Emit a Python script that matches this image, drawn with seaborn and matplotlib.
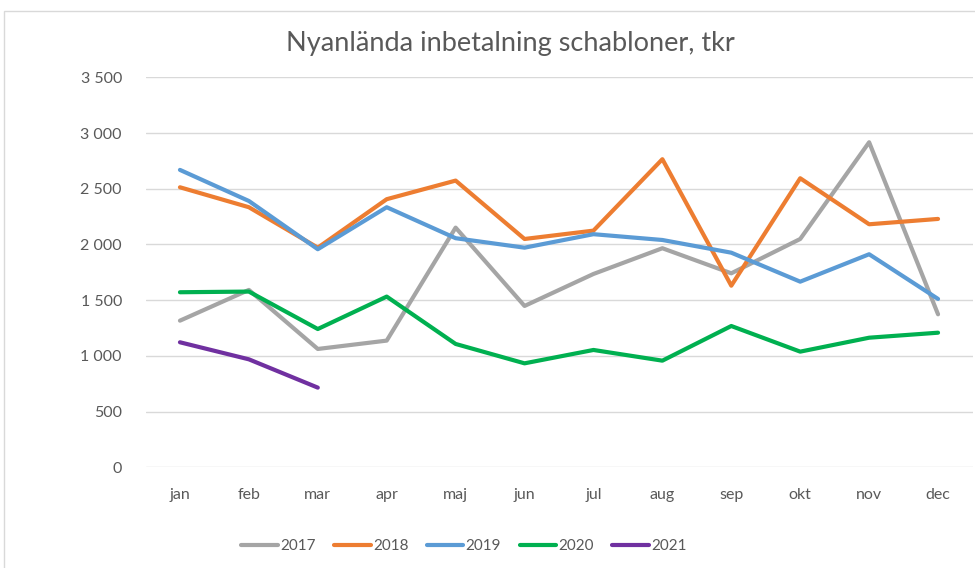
import numpy as np
import pandas as pd
import matplotlib
matplotlib.use("Agg")
import matplotlib.pyplot as plt
import seaborn as sns
from matplotlib.ticker import FuncFormatter
from matplotlib.patches import Rectangle

months = ["jan", "feb", "mar", "apr", "maj", "jun", "jul", "aug", "sep", "okt", "nov", "dec"]
years = ["2017", "2018", "2019", "2020", "2021"]
v2017 = [1316, 1592, 1062, 1137, 2151, 1448, 1735, 1966, 1741, 2049, 2917, 1373]
v2018 = [2513, 2334, 1971, 2406, 2573, 2049, 2124, 2765, 1630, 2594, 2181, 2229]
v2019 = [2669, 2390, 1957, 2334, 2056, 1971, 2092, 2040, 1926, 1666, 1912, 1511]
v2020 = [1571, 1577, 1241, 1532, 1107, 933, 1053, 957, 1268, 1038, 1163, 1208]
v2021 = [1122, 969, 715]
colors = ["#A5A5A5", "#ED7D31", "#5B9BD5", "#00B050", "#7030A0"]
title = "Nyanlända inbetalning schabloner, tkr"

series = [v2017, v2018, v2019, v2020, v2021]
rows = []
for y, vals in zip(years, series):
    for i, v in enumerate(vals):
        rows.append({"year": y, "pos": i, "month": months[i], "value": v})
df = pd.DataFrame(rows)

sns.set_theme(style="white")
plt.rcParams["font.family"] = ["Lato", "DejaVu Sans"]

fig = plt.figure(figsize=(9.75, 5.68), dpi=100)
W, H = 975, 568
ax = fig.add_axes([145.5 / W, 1 - 467.3 / H, 827 / W, 390 / H])

sns.lineplot(data=df, x="pos", y="value", hue="year", hue_order=years,
             palette=colors, linewidth=3, sort=False, ax=ax, legend=True,
             solid_joinstyle="round", solid_capstyle="round")

ax.set_xlim(-0.5, 11.5)
ax.set_ylim(0, 3500)
ax.set_yticks(np.arange(0, 3501, 500))
ax.yaxis.set_major_formatter(FuncFormatter(lambda v, p: f"{int(v):,}".replace(",", " ")))
ax.set_xticks(range(12))
ax.set_xticklabels(months)
ax.set_xlabel("")
ax.set_ylabel("")
for s in ax.spines.values():
    s.set_visible(False)
ax.grid(axis="y", color="#d9d9d9", linewidth=1)
ax.grid(axis="x", visible=False)
ax.set_axisbelow(True)
ax.tick_params(axis="both", length=0, labelsize=11.5, colors="#595959")
ax.tick_params(axis="y", pad=17)
ax.tick_params(axis="x", pad=15)

handles, labels = ax.get_legend_handles_labels()
ax.get_legend().remove()
leg = fig.legend(handles, labels, loc="center", bbox_to_anchor=(464 / W, 1 - 546 / H),
                 ncol=5, frameon=False, fontsize=11, handlelength=2.4,
                 handletextpad=0.15, columnspacing=1.2)
for t in leg.get_texts():
    t.set_color("#595959")

fig.text(510 / W, 1 - 43 / H, title, ha="center", va="center", fontsize=19.5, color="#595959")

fig.patches.append(Rectangle((4 / W, -0.1), 1.2, 1 - 11 / H + 0.1, transform=fig.transFigure,
                             fill=False, edgecolor="#d9d9d9", linewidth=1))

fig.savefig("out.png", dpi=100)
